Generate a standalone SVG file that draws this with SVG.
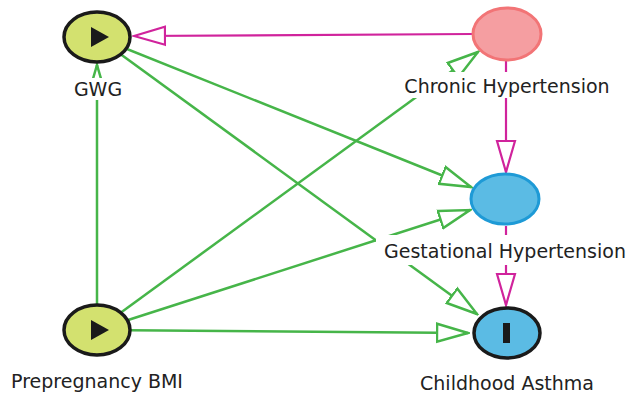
<svg xmlns="http://www.w3.org/2000/svg" width="631" height="394" viewBox="0 0 631 394">
<style>
.lbl{font-family:"DejaVu Sans","Liberation Sans",sans-serif;font-size:19px;fill:#222;text-anchor:middle}
.g{stroke:#46b549;stroke-width:2.5;fill:none;marker-end:url(#ag)}
.m{stroke:#d0239c;stroke-width:2.2;fill:none;marker-end:url(#am)}
.bg{fill:#fff}
.dark{stroke:#1a1a1a;stroke-width:3.5}
</style>
<defs>
<marker id="ag" markerUnits="userSpaceOnUse" markerWidth="34" markerHeight="22" refX="31" refY="10" orient="auto" viewBox="-1 -1 34 22">
<path d="M0,1 L31,10 L0,19 z" fill="#fff" stroke="#46b549" stroke-width="2.5"/>
</marker>
<marker id="am" markerUnits="userSpaceOnUse" markerWidth="34" markerHeight="22" refX="31" refY="10" orient="auto" viewBox="-1 -1 34 22">
<path d="M0,1 L31,10 L0,19 z" fill="#fff" stroke="#d0239c" stroke-width="2.2"/>
</marker>
</defs>
<g id="connectors">
<line class="m" x1="472" y1="34" x2="134" y2="36"/>
<line class="m" x1="506" y1="61" x2="506" y2="172"/>
<line class="m" x1="506" y1="226" x2="506" y2="305"/>
<line class="g" x1="97" y1="37" x2="471" y2="187"/>
<line class="g" x1="97" y1="37" x2="477" y2="314"/>
<line class="g" x1="97" y1="330" x2="97" y2="65"/>
<line class="g" x1="97" y1="330" x2="478" y2="52"/>
<line class="g" x1="97" y1="330" x2="470" y2="210"/>
<line class="g" x1="97" y1="330" x2="468" y2="333"/>
</g>
<g id="GWG">
<ellipse cx="97" cy="37" rx="33" ry="25" fill="#d3e16f" class="dark"/>
<path d="M91,27 L109,37 L91,47 z" fill="#1a1a1a"/>
<rect class="bg" x="74" y="78" width="48" height="22"/>
<text class="lbl" x="98" y="96">GWG</text>
</g>
<g id="ChronicHypertension">
<ellipse cx="507" cy="34" rx="34" ry="26" fill="#f59ea1" stroke="#f27476" stroke-width="3"/>
<rect class="bg" x="400" y="72" width="214" height="26"/>
<text class="lbl" x="507" y="93">Chronic Hypertension</text>
</g>
<g id="GestationalHypertension">
<ellipse cx="505" cy="199" rx="34" ry="25" fill="#5bbbe4" stroke="#1e9ad6" stroke-width="3"/>
<rect class="bg" x="376" y="235" width="254" height="30"/>
<text class="lbl" x="505" y="258">Gestational Hypertension</text>
</g>
<g id="ChildhoodAsthma">
<ellipse cx="507" cy="333" rx="33" ry="25" fill="#5bbbe4" class="dark"/>
<rect x="503" y="323" width="7" height="20" fill="#1a1a1a"/>
<text class="lbl" x="507" y="390">Childhood Asthma</text>
</g>
<g id="PrepregnancyBMI">
<ellipse cx="97" cy="330" rx="33" ry="25" fill="#d3e16f" class="dark"/>
<path d="M91,320 L109,330 L91,340 z" fill="#1a1a1a"/>
<text class="lbl" x="97" y="388">Prepregnancy BMI</text>
</g>
</svg>
